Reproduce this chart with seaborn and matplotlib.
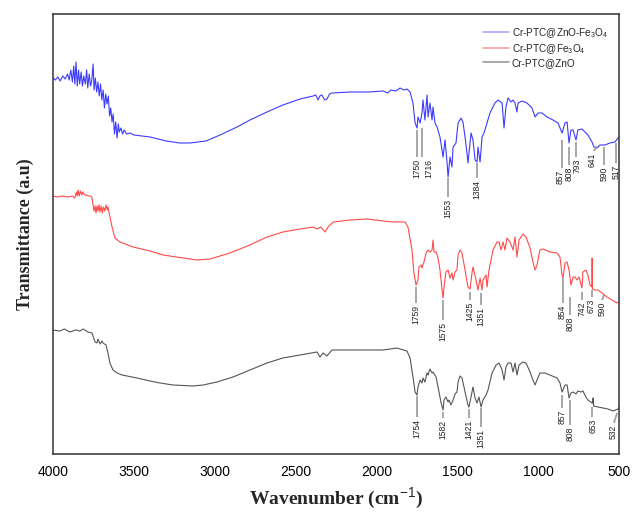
import numpy as np
import pandas as pd
import matplotlib
matplotlib.use("Agg")
import matplotlib.pyplot as plt
import seaborn as sns
from matplotlib.lines import Line2D

# ---------------- data (wavenumber cm-1, transmittance a.u.) ----------------
wn_blue = [4000, 3985, 3970, 3955, 3940, 3925, 3910, 3900, 3890, 3880, 3872, 3865, 3858, 3850,
           3842, 3835, 3826, 3818, 3810, 3800, 3792, 3785, 3776, 3768, 3760, 3752, 3746, 3738,
           3730, 3722, 3714, 3706, 3698, 3690, 3682, 3674, 3666, 3658, 3650, 3643, 3635, 3628,
           3620, 3612, 3604, 3596, 3590, 3580, 3570, 3560, 3545, 3524, 3500, 3450, 3400, 3350,
           3300, 3215, 3153, 3054, 2967, 2862, 2782, 2677, 2578, 2473, 2392, 2375, 2361, 2350,
           2337, 2320, 2306, 2290, 2275, 2163, 2050, 1959, 1930, 1910, 1880, 1854, 1830, 1811,
           1792, 1774, 1761, 1749, 1743, 1730, 1718, 1712, 1700, 1687, 1681, 1669, 1656, 1650,
           1638, 1625, 1607, 1588, 1576, 1563, 1557, 1545, 1533, 1526, 1508, 1495, 1477, 1465,
           1452, 1440, 1434, 1415, 1403, 1390, 1378, 1372, 1359, 1347, 1335, 1316, 1298, 1267,
           1248, 1223, 1211, 1199, 1186, 1168, 1155, 1143, 1131, 1124, 1100, 1069, 1038, 1019,
           1001, 976, 945, 908, 877, 852, 834, 821, 809, 797, 784, 766, 754, 729, 711, 692, 667,
           655, 636, 617, 587, 556, 525, 506, 500]
t_blue = [376, 374, 377, 373, 378, 375, 380, 374, 384, 372, 388, 370, 392, 368,
          384, 370, 382, 368, 378, 370, 384, 366, 380, 368, 374, 390, 364, 376,
          362, 372, 358, 370, 354, 364, 346, 360, 350, 358, 338, 346, 332, 340,
          320, 332, 316, 330, 322, 326, 320, 324, 320, 321, 319, 318, 317, 315,
          313, 311, 311, 313, 319, 327, 334, 342, 349, 355, 358, 359, 354, 358,
          359, 354, 355, 360, 361, 362, 362, 363, 361, 364, 363, 366, 364, 365,
          362, 351, 331, 326, 337, 331, 341, 354, 334, 359, 337, 351, 334, 347,
          331, 327, 317, 297, 314, 291, 277, 297, 287, 307, 311, 331, 336, 332,
          317, 301, 291, 321, 314, 294, 292, 307, 292, 317, 321, 331, 341, 351,
          354, 351, 326, 347, 356, 352, 354, 351, 342, 351, 353, 351, 346, 337,
          341, 341, 337, 334, 331, 321, 331, 332, 311, 324, 324, 314, 324, 325, 322, 319, 312,
          307, 306, 309, 309, 311, 312, 316, 317]

wn_red = [4000, 3970, 3940, 3910, 3880, 3865, 3855, 3850, 3845, 3838, 3830, 3822, 3815, 3805,
          3795, 3780, 3770, 3760, 3752, 3746, 3740, 3734, 3728, 3722, 3716, 3710, 3702, 3695,
          3688, 3680, 3672, 3664, 3660, 3635, 3617, 3586, 3505, 3400, 3320, 3196, 3110, 3029,
          2906, 2782, 2677, 2578, 2473, 2392, 2367, 2343, 2318, 2299, 2268, 2163, 2058, 1959,
          1897, 1854, 1823, 1805, 1780, 1768, 1755, 1743, 1737, 1724, 1718, 1706, 1693, 1681,
          1669, 1656, 1650, 1644, 1631, 1619, 1607, 1594, 1588, 1582, 1570, 1557, 1545, 1533,
          1526, 1514, 1502, 1495, 1483, 1471, 1452, 1434, 1421, 1409, 1403, 1384, 1372, 1359,
          1347, 1341, 1322, 1316, 1304, 1279, 1254, 1242, 1230, 1217, 1205, 1193, 1174, 1155,
          1143, 1131, 1118, 1094, 1075, 1050, 1032, 1019, 1007, 989, 970, 927, 883, 865, 852,
          846, 834, 821, 809, 797, 784, 772, 760, 747, 729, 723, 705, 692, 680, 668, 666, 664,
          649, 630, 605, 574, 543, 512, 500]
t_red = [258, 257, 258, 257, 258, 256, 262, 258, 264, 258, 263, 259, 262, 259,
         259, 258, 258, 257, 249, 243, 248, 241, 248, 243, 249, 242, 248, 241,
         247, 243, 249, 244, 247, 227, 216, 212, 207, 203, 199, 196, 194, 195,
         201, 209, 217, 222, 225, 227, 225, 227, 222, 227, 232, 234, 235, 233,
         232, 232, 232, 227, 204, 181, 169, 174, 187, 189, 186, 192, 201, 204,
         202, 204, 214, 202, 202, 196, 184, 164, 156, 167, 182, 184, 176, 181,
         174, 182, 184, 199, 204, 201, 184, 167, 165, 181, 187, 174, 164, 176,
         164, 174, 179, 167, 184, 204, 212, 212, 204, 212, 204, 216, 212, 204,
         217, 197, 214, 220, 217, 206, 192, 184, 189, 204, 205, 202, 201, 197, 179,
         176, 191, 192, 184, 169, 177, 177, 174, 177, 166, 182, 184, 179, 169, 167, 196, 165,
         164, 164, 161, 157, 154, 151, 152]

wn_black = [4000, 3957, 3930, 3895, 3860, 3833, 3814, 3784, 3759, 3740, 3728, 3722, 3709, 3697,
            3691, 3672, 3660, 3648, 3629, 3604, 3573, 3542, 3481, 3400, 3338, 3258, 3134, 3072,
            2986, 2887, 2782, 2677, 2578, 2473, 2367, 2349, 2330, 2306, 2275, 2163, 2058, 1959,
            1873, 1854, 1811, 1792, 1774, 1761, 1749, 1743, 1730, 1718, 1712, 1700, 1687, 1681,
            1669, 1656, 1650, 1631, 1619, 1600, 1588, 1582, 1570, 1557, 1551, 1539, 1526, 1514,
            1502, 1495, 1483, 1471, 1452, 1434, 1428, 1415, 1403, 1390, 1378, 1366, 1353, 1341,
            1322, 1310, 1285, 1260, 1242, 1223, 1211, 1199, 1186, 1168, 1155, 1143, 1131, 1118,
            1094, 1075, 1050, 1032, 1019, 1007, 989, 958, 914, 883, 865, 852, 834, 821, 809, 797,
            784, 766, 754, 735, 723, 705, 692, 667, 663, 660, 657, 630, 599, 568, 537, 506, 500]
t_black = [124, 123, 125, 122, 124, 123, 125, 122, 121, 112, 111, 115, 110, 113,
           111, 109, 101, 91, 84, 81, 79, 78, 76, 73, 71, 69, 68, 69,
           72, 77, 84, 91, 96, 99, 102, 97, 101, 98, 104, 104, 104, 104,
           106, 105, 103, 96, 77, 62, 59, 67, 74, 71, 76, 72, 81, 79,
           85, 81, 82, 77, 67, 51, 44, 54, 57, 52, 54, 49, 54, 60,
           62, 72, 78, 76, 62, 49, 47, 57, 67, 56, 51, 57, 47, 54,
           59, 64, 81, 89, 91, 84, 74, 87, 91, 91, 82, 91, 79, 89,
           92, 91, 82, 74, 69, 74, 81, 81, 78, 76, 71, 62, 69, 69, 56, 61,
           62, 60, 63, 62, 63, 57, 54, 51, 51, 56, 48, 47, 46, 45, 43, 45, 47]

series_names = ["Cr-PTC@ZnO-Fe$_3$O$_4$", "Cr-PTC@Fe$_3$O$_4$", "Cr-PTC@ZnO"]

# peak labels per series
peaks_blue = ["1750", "1716", "1553", "1384", "857", "808", "793", "641", "590", "517"]
peaks_red = ["1759", "1575", "1425", "1351", "854", "808", "742", "673", "590"]
peaks_black = ["1754", "1582", "1421", "1351", "857", "808", "653", "532"]

# ---------------- layout of peak markers: (x_top, y_top, x_bottom, y_bottom, x_text) ----------------
mark_blue = [(1749, 324, 1749, 297, 1749), (1718, 326, 1718, 297, 1675),
             (1557, 276, 1557, 257, 1557), (1378, 291, 1378, 276, 1378),
             (852, 314, 852, 286, 865), (809, 307, 809, 289, 809),
             (766, 312, 766, 297, 760), (636, 308, 655, 303, 667),
             (593, 307, 593, 289, 593), (519, 311, 519, 291, 519)]
mark_red = [(1755, 167, 1755, 151, 1755), (1588, 154, 1588, 134, 1588),
            (1421, 162, 1421, 154, 1421), (1353, 161, 1353, 149, 1353),
            (846, 176, 846, 151, 852), (803, 157, 803, 139, 803),
            (729, 162, 729, 154, 729), (667, 164, 667, 157, 673),
            (593, 159, 605, 154, 605)]
mark_black = [(1749, 58, 1749, 37, 1749), (1588, 42, 1588, 36, 1588),
              (1428, 45, 1428, 36, 1428), (1353, 46, 1353, 27, 1353),
              (852, 59, 852, 46, 852), (803, 54, 803, 29, 803),
              (667, 47, 667, 37, 661), (512, 41, 531, 31, 537)]

colors = ["#3b3bff", "#ff4a4a", "#555555"]
legend_colors = ["#a9a9ff", "#ff9f9f", "#9a9a9a"]

# ---------------- plotting ----------------
sns.set_style("white")
plt.rcParams["font.family"] = ["Liberation Sans", "DejaVu Sans"]
plt.rcParams["mathtext.fontset"] = "custom"
plt.rcParams["mathtext.rm"] = "Liberation Sans"
plt.rcParams["mathtext.it"] = "Liberation Sans:italic"

fig = plt.figure(figsize=(6.33, 5.16), dpi=100)
ax = fig.add_axes([53 / 633, 1 - 454 / 516, 566 / 633, 440 / 516])

frames = []
for name, wn, t in zip(series_names, [wn_blue, wn_red, wn_black], [t_blue, t_red, t_black]):
    frames.append(pd.DataFrame({"wn": wn, "t": t, "sample": name}))
df = pd.concat(frames, ignore_index=True)

sns.lineplot(data=df, x="wn", y="t", hue="sample", palette=colors, sort=False,
             estimator=None, linewidth=0.8, ax=ax, legend=False)

# peak marker lines + labels
for labels, marks in [(peaks_blue, mark_blue), (peaks_red, mark_red), (peaks_black, mark_black)]:
    for lab, (xt, yt, xb, yb, xtxt) in zip(labels, marks):
        ax.plot([xt, xb], [yt, yb], color="#a0a0a0", lw=1.3, solid_capstyle="butt")
        ax.text(xtxt, yb - 2, lab, rotation=90, ha="center", va="top", fontsize=6.2,
                color="#222222")

# legend
handles = [Line2D([0], [0], color=c, lw=1.2) for c in legend_colors]
ax.legend(handles, series_names, loc="upper left", bbox_to_anchor=(0.752, 0.982),
          frameon=False, fontsize=7.2, handlelength=2.6, handletextpad=0.3,
          labelspacing=0.22, borderaxespad=0)

ax.set_xlim(4000, 500)
ax.set_ylim(0, 440)
ax.set_xticks([4000, 3500, 3000, 2500, 2000, 1500, 1000, 500])
ax.set_xticks(np.arange(500, 4001, 250), minor=True)
ax.set_yticks([])
ax.tick_params(axis="x", which="major", direction="out", length=5, width=1, labelsize=10,
               pad=3, colors="#333333", labelcolor="black")
ax.tick_params(axis="x", which="minor", direction="out", length=3, width=1, colors="#333333")
for s in ax.spines.values():
    s.set_visible(True)
    s.set_color("#333333")
    s.set_linewidth(1.1)

ax.set_xlabel("Wavenumber (cm$^{-1}$)", fontsize=14, fontweight="bold",
              family="Liberation Serif", labelpad=5)
ax.set_ylabel("Transmittance (a.u)", fontsize=13, fontweight="bold",
              family="Liberation Serif", labelpad=14)

fig.savefig("out.png", dpi=100)
